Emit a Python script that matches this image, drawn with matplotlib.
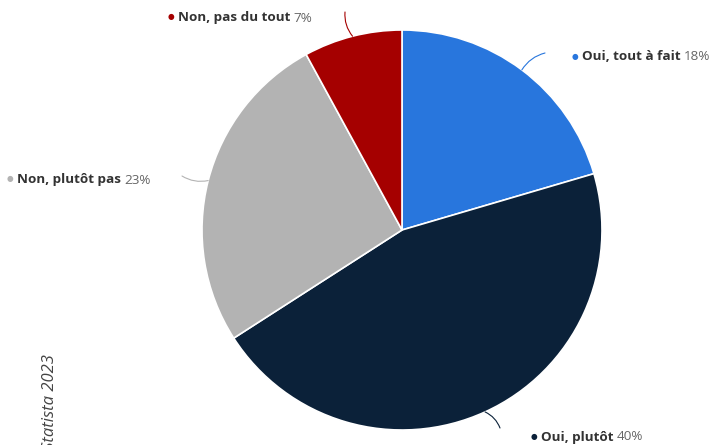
import numpy as np
import matplotlib
matplotlib.use('Agg')
import matplotlib.pyplot as plt

labels = ['Oui, tout à fait', 'Oui, plutôt', 'Non, plutôt pas', 'Non, pas du tout']
values = [18, 40, 23, 7]
colors = ['#2876dd', '#0b2139', '#b3b3b3', '#a50000']

# bullet position of each label, in pixels from the top-left corner
label_px = [(575, 57), (534, 437), (10, 180), (171, 18)]
# end of the connector line near each label
line_end_px = [(545, 53), (500, 428), (182, 176), (345, 12)]

W, H = 712, 445
fig = plt.figure(figsize=(W / 100, H / 100), dpi=100)
plt.rcParams['font.family'] = ['Open Sans', 'DejaVu Sans']

cx, cy, r = 402, 230, 200
ax = fig.add_axes([(cx - r) / W, (H - cy - r) / H, 2 * r / W, 2 * r / H])
wedges, _ = ax.pie(values, colors=colors, startangle=90, counterclock=False, radius=1,
                   wedgeprops=dict(edgecolor='white', linewidth=1.2))
ax.set_xlim(-1, 1)
ax.set_ylim(-1, 1)
ax.set_aspect('equal')
ax.axis('off')

renderer = fig.canvas.get_renderer()


def px_to_fig(x, y):
    return x / W, 1 - y / H


for w, lab, val, col, (bx, by), (lx, ly) in zip(wedges, labels, values, colors,
                                                 label_px, line_end_px):
    ang = np.deg2rad((w.theta1 + w.theta2) / 2)
    ex, ey = np.cos(ang), np.sin(ang)
    ax.annotate('', xy=(ex, ey), xytext=px_to_fig(lx, ly), textcoords='figure fraction',
                arrowprops=dict(arrowstyle='-', color=col, lw=0.8,
                                connectionstyle='arc3,rad=0.2', shrinkA=0, shrinkB=0),
                annotation_clip=False)
    fx, fy = px_to_fig(bx, by)
    fig.text(fx, fy, '\u25CF', color=col, fontsize=5.5, ha='center', va='center')
    t = fig.text(fx + 7 / W, fy, lab, color='#333333', fontsize=9.7, fontweight='bold',
                 ha='left', va='center')
    bb = t.get_window_extent(renderer)
    fig.text(bb.x1 / W + 3 / W, fy, f'{val}%', color='#666666', fontsize=9.7,
             ha='left', va='center')

fig.text(50 / W, -5 / H, 'Statista 2023', rotation=90, fontsize=12, style='italic',
         color='#444444', ha='center', va='bottom')

fig.savefig('out.png', dpi=100)
